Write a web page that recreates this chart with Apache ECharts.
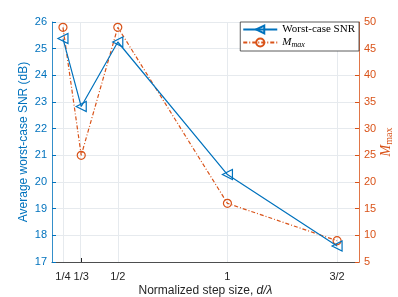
<!DOCTYPE html>
<html><head><meta charset="utf-8">
<script src="https://cdn.jsdelivr.net/npm/echarts@6/dist/echarts.min.js"></script>
<style>html,body{margin:0;padding:0;background:#fff}#c{width:398px;height:297px}</style>
</head><body><div id="c"></div>
<script>
const stepSizes = [0.25, 1/3, 0.5, 1, 1.5];
const tickLabels = ['1/4', '1/3', '1/2', '1', '3/2'];
const snrValues = [25.38, 22.83, 25.25, 20.28, 17.6];
const mmaxValues = [49, 25, 49, 16, 9];

const blue = '#0072BD', orange = '#D95319';
const chart = echarts.init(document.getElementById('c'));
const gridColor = '#e6eaee';
chart.setOption({
  animation: false,
  grid: {left: 52, right: 39, top: 22, bottom: 35, containLabel: false, outerBoundsMode: 'none'},
  graphic: [{
    type: 'text', x: 24, y: 142, rotation: Math.PI / 2,
    style: {text: 'Average worst-case SNR (dB)', fontFamily: 'Liberation Sans', fontSize: 12, fill: blue,
      align: 'center', verticalAlign: 'middle'}
  }, {
    type: 'text', x: 386, y: 142, rotation: Math.PI / 2,
    style: {text: '{i|M}{s|max}', fill: orange, align: 'center', verticalAlign: 'middle',
      rich: {i: {fontFamily: 'Liberation Serif', fontStyle: 'italic', fontSize: 14, fill: orange},
             s: {fontFamily: 'Liberation Serif', fontSize: 10, fill: orange, verticalAlign: 'bottom', padding: [6,0,0,0]}}}
  }, {
    type: 'text', x: 205.5, y: 291,
    style: {text: 'Normalized step size, {i|d/λ}', fontFamily: 'Liberation Sans', fontSize: 12, fill: '#262626',
      align: 'center', verticalAlign: 'middle',
      rich: {i: {fontFamily: 'Liberation Sans', fontStyle: 'italic', fontSize: 12, fill: '#262626'}}}
  }],
  legend: {
    right: 39, top: 22, orient: 'vertical',
    backgroundColor: '#fff', borderColor: '#333', borderWidth: 0.8,
    padding: [2, 4, 2, 2], itemGap: 2, itemWidth: 34, itemHeight: 10,
    textStyle: {fontFamily: 'Liberation Serif', fontSize: 11, color: '#000',
      rich: {i: {fontFamily: 'Liberation Serif', fontStyle: 'italic', fontSize: 11},
             s: {fontFamily: 'Liberation Serif', fontStyle: 'italic', fontSize: 8, verticalAlign: 'bottom', padding: [5,0,0,0]}}},
    formatter: n => n === 'Mmax' ? '{i|M}{s|max}' : n
  },
  xAxis: {
    type: 'value', min: 0.2, max: 1.6,
    axisLine: {lineStyle: {color: '#262626', width: 0.8}},
    axisTick: {inside: true, length: 4, customValues: stepSizes, lineStyle: {color: '#262626'}},
    axisLabel: {customValues: stepSizes, fontFamily: 'Liberation Sans', fontSize: 11, color: '#262626', margin: 9,
      formatter: v => { const i = stepSizes.findIndex(s => Math.abs(s - v) < 1e-6); return i >= 0 ? tickLabels[i] : ''; }},
    splitLine: {show: false}
  },
  yAxis: [{
    type: 'value', min: 17, max: 26, interval: 1, position: 'left',
    axisLine: {show: true, lineStyle: {color: blue, width: 0.8}},
    axisTick: {show: true, inside: true, length: 4, lineStyle: {color: blue}},
    axisLabel: {fontFamily: 'Liberation Sans', fontSize: 11, color: blue, margin: 5},
    splitLine: {show: true, lineStyle: {color: gridColor, width: 1}}
  }, {
    type: 'value', min: 5, max: 50, interval: 5, position: 'right',
    axisLine: {show: true, lineStyle: {color: orange, width: 0.8}},
    axisTick: {show: true, inside: true, length: 4, lineStyle: {color: orange}},
    axisLabel: {fontFamily: 'Liberation Sans', fontSize: 11, color: orange, margin: 5},
    splitLine: {show: false}
  }],
  series: [{
    name: 'Worst-case SNR', type: 'line', yAxisIndex: 0,
    data: stepSizes.map((x, i) => [x, snrValues[i]]),
    symbol: 'triangle', symbolRotate: 90, symbolSize: 10,
    lineStyle: {color: blue, width: 1.2},
    itemStyle: {color: 'rgba(255,255,255,0)', borderColor: blue, borderWidth: 1.2},
    z: 3,
    markLine: {silent: true, symbol: 'none', label: {show: false},
      lineStyle: {color: gridColor, type: 'solid', width: 1}, z: 1,
      data: stepSizes.map(x => ({xAxis: x}))}
  }, {
    name: 'Mmax', type: 'line', yAxisIndex: 1,
    data: stepSizes.map((x, i) => [x, mmaxValues[i]]),
    symbol: 'circle', symbolSize: 8,
    lineStyle: {color: orange, width: 1.2, type: [4, 2, 1, 2]},
    itemStyle: {color: 'rgba(255,255,255,0)', borderColor: orange, borderWidth: 1.2},
    z: 2
  }]
});
</script></body></html>
